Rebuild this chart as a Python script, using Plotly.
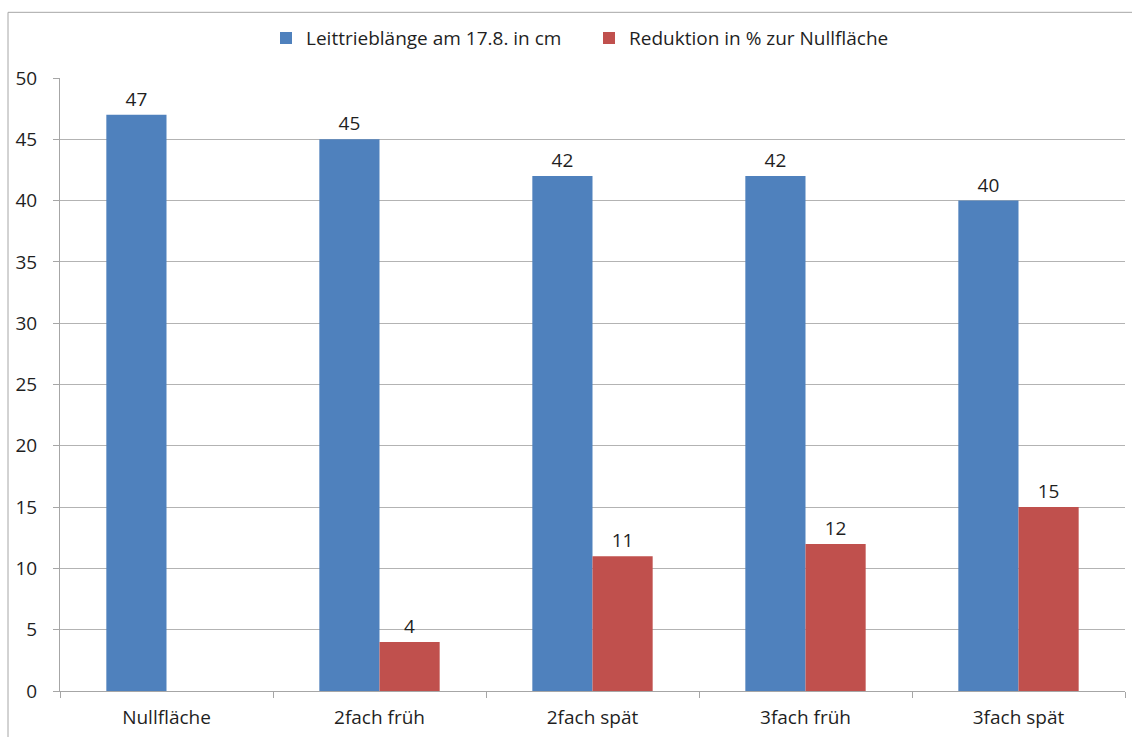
import plotly.graph_objects as go

# Versuchsvarianten und Messwerte
varianten = ["Nullfläche", "2fach früh", "2fach spät", "3fach früh", "3fach spät"]
leittrieb_cm = [47, 45, 42, 42, 40]
reduktion_pct = [None, 4, 11, 12, 15]

serie_namen = ["Leittrieblänge am 17.8. in cm", "Reduktion in % zur Nullfläche"]
y_ticks = [0, 5, 10, 15, 20, 25, 30, 35, 40, 45, 50]

FONT = "Open Sans, Noto Sans, Liberation Sans, sans-serif"
TEXT = "#1f1f1f"
FS = 19

fig = go.Figure()
fig.add_trace(go.Bar(
    x=varianten, y=leittrieb_cm, name=serie_namen[0],
    marker=dict(color="#4F81BD", line=dict(width=0)),
    text=leittrieb_cm, textposition="outside",
    textfont=dict(size=FS, color=TEXT, family=FONT),
    cliponaxis=False,
))
fig.add_trace(go.Bar(
    x=varianten, y=reduktion_pct, name=serie_namen[1],
    marker=dict(color="#C0504D", line=dict(width=0)),
    text=[("" if v is None else v) for v in reduktion_pct], textposition="outside",
    textfont=dict(size=FS, color=TEXT, family=FONT),
    cliponaxis=False,
))

L, R, T, B = 60, 7, 78, 43
W, H = 1132, 737
pw, ph = W - L - R, H - T - B

fig.update_layout(
    width=W, height=H,
    margin=dict(l=L, r=R, t=T, b=B, pad=0),
    paper_bgcolor="white", plot_bgcolor="white",
    barmode="group", bargap=0.435, bargroupgap=0,
    font=dict(family=FONT, size=FS, color=TEXT),
    legend=dict(
        orientation="h", x=(266 - L) / pw, xanchor="left",
        y=(H - B - 38) / ph, yanchor="middle",
        font=dict(size=FS, color=TEXT), itemwidth=30,
        entrywidth=278, entrywidthmode="pixels",
        bgcolor="rgba(0,0,0,0)",
    ),
    showlegend=True,
    xaxis=dict(
        type="category", showgrid=False,
        showline=True, linecolor="#a6a6a6", linewidth=1,
        ticks="outside", tickson="boundaries", ticklen=6, tickcolor="#a6a6a6",
        tickfont=dict(size=FS, color=TEXT), fixedrange=True,
        ticklabelstandoff=9,
    ),
    yaxis=dict(
        range=[0, 50], tickvals=y_ticks,
        showgrid=True, gridcolor="#b3b3b3", gridwidth=1,
        showline=True, linecolor="#a6a6a6", linewidth=1,
        ticks="outside", ticklen=6, tickcolor="#a6a6a6",
        tickfont=dict(size=FS, color=TEXT), zeroline=False,
        ticklabelstandoff=12,
    ),
    shapes=[dict(
        type="rect", xref="paper", yref="paper",
        x0=(8 - L) / pw, x1=(W + 20 - L) / pw,
        y0=-(B + 20) / ph, y1=(H - B - 12) / ph,
        line=dict(color="#a6a6a6", width=1), fillcolor="rgba(0,0,0,0)",
        layer="below",
    )],
)

fig.write_html("out.html")
